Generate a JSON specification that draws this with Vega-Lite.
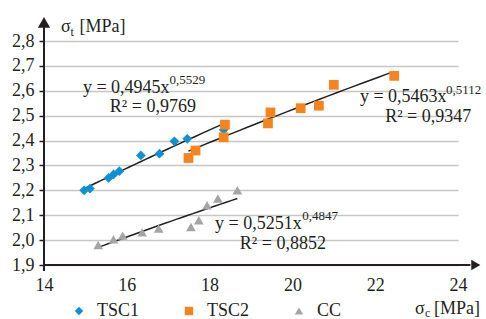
{
  "$schema": "https://vega.github.io/schema/vega-lite/v6.json",
  "width": 414,
  "height": 224,
  "autosize": "none",
  "padding": {"left": 44, "top": 41, "right": 28, "bottom": 54},
  "config": {
    "view": {"stroke": null},
    "font": "Liberation Serif, Times New Roman, Times, Noto Serif, DejaVu Serif, serif",
    "text": {"font": "Liberation Serif, Times New Roman, Times, Noto Serif, DejaVu Serif, serif"},
    "axis": {"labelFont": "Liberation Serif, Times New Roman, Times, Noto Serif, DejaVu Serif, serif", "labelFontSize": 18, "labelColor": "#231F20", "labelOverlap": false},
    "legend": {"labelFont": "Liberation Serif, Times New Roman, Times, Noto Serif, DejaVu Serif, serif"}
  },
  "data": {
    "values": [
      {"series": "TSC1", "c": 14.97, "t": 2.200},
      {"series": "TSC1", "c": 15.11, "t": 2.207},
      {"series": "TSC1", "c": 15.56, "t": 2.250},
      {"series": "TSC1", "c": 15.68, "t": 2.264},
      {"series": "TSC1", "c": 15.82, "t": 2.277},
      {"series": "TSC1", "c": 16.34, "t": 2.340},
      {"series": "TSC1", "c": 16.79, "t": 2.347},
      {"series": "TSC1", "c": 17.15, "t": 2.397},
      {"series": "TSC1", "c": 17.46, "t": 2.407},
      {"series": "TSC1", "c": 18.34, "t": 2.443},
      {"series": "TSC2", "c": 17.49, "t": 2.330},
      {"series": "TSC2", "c": 17.66, "t": 2.360},
      {"series": "TSC2", "c": 18.37, "t": 2.464},
      {"series": "TSC2", "c": 18.34, "t": 2.413},
      {"series": "TSC2", "c": 19.41, "t": 2.469},
      {"series": "TSC2", "c": 19.47, "t": 2.513},
      {"series": "TSC2", "c": 20.20, "t": 2.530},
      {"series": "TSC2", "c": 20.64, "t": 2.540},
      {"series": "TSC2", "c": 21.00, "t": 2.624},
      {"series": "TSC2", "c": 22.46, "t": 2.660},
      {"series": "CC", "c": 15.31, "t": 1.980},
      {"series": "CC", "c": 15.68, "t": 2.003},
      {"series": "CC", "c": 15.90, "t": 2.018},
      {"series": "CC", "c": 16.37, "t": 2.031},
      {"series": "CC", "c": 16.77, "t": 2.047},
      {"series": "CC", "c": 17.55, "t": 2.053},
      {"series": "CC", "c": 17.74, "t": 2.080},
      {"series": "CC", "c": 17.94, "t": 2.140},
      {"series": "CC", "c": 18.20, "t": 2.167},
      {"series": "CC", "c": 18.67, "t": 2.200}
    ]
  },
  "layer": [
    {
      "mark": {"type": "point", "filled": true, "size": 0},
      "encoding": {
        "x": {"field": "c", "type": "quantitative", "title": null,
          "scale": {"domain": [14, 24], "nice": false, "zero": false},
          "axis": {"values": [14, 16, 18, 20, 22, 24], "format": "d", "grid": false, "ticks": false, "domain": false, "labelPadding": 11, "labelFlush": false, "labelFontSize": 18, "labelOverlap": false}},
        "y": {"field": "t", "type": "quantitative", "title": null,
          "scale": {"domain": [1.9, 2.8], "nice": false, "zero": false},
          "axis": {"values": [1.9, 2.0, 2.1, 2.2, 2.3, 2.4, 2.5, 2.6, 2.7, 2.8], "tickCount": 20, "grid": true, "gridColor": "#C6C6C6", "gridWidth": 1.5,
            "ticks": true, "tickSize": 5, "tickColor": "#231F20", "tickWidth": 1.5, "domain": false, "labelPadding": 5, "labelFlush": false,
            "labelFontSize": 18, "labelOverlap": false,
            "labelExpr": "replace(format(datum.value, '.1f'), '.', ',')"}}
      }
    },
    {
      "transform": [{"regression": "t", "on": "c", "groupby": ["series"], "method": "pow"}],
      "mark": {"type": "line", "color": "#231F20", "strokeWidth": 1.5},
      "encoding": {
        "x": {"field": "c", "type": "quantitative", "title": null},
        "y": {"field": "t", "type": "quantitative", "title": null},
        "detail": {"field": "series"}
      }
    },
    {
      "mark": {"type": "point", "filled": true, "opacity": 1, "size": 95},
      "encoding": {
        "x": {"field": "c", "type": "quantitative", "title": null},
        "y": {"field": "t", "type": "quantitative", "title": null},
        "color": {"field": "series", "type": "nominal",
          "scale": {"domain": ["TSC1", "TSC2", "CC"], "range": ["#0E8FD6", "#F5841F", "#A5A5A5"]},
          "legend": {"title": null, "orient": "none", "legendX": 26, "legendY": 261, "direction": "horizontal", "columns": 3,
            "gridAlign": "all", "columnPadding": 40, "padding": 0, "symbolSize": 70, "labelFontSize": 18, "labelColor": "#231F20", "labelOffset": 9}},
        "shape": {"field": "series", "type": "nominal",
          "scale": {"domain": ["TSC1", "TSC2", "CC"], "range": ["diamond", "square", "triangle-up"]}}
      }
    },
    {
      "data": {"values": [{}]},
      "mark": {"type": "rule", "color": "#231F20", "strokeWidth": 2},
      "encoding": {
        "x": {"datum": 14, "type": "quantitative"},
        "y": {"datum": 1.876, "type": "quantitative"},
        "y2": {"datum": 2.88}
      }
    },
    {
      "data": {"values": [{}]},
      "mark": {"type": "rule", "color": "#231F20", "strokeWidth": 2},
      "encoding": {
        "y": {"datum": 1.9, "type": "quantitative"},
        "x": {"datum": 14, "type": "quantitative"},
        "x2": {"datum": 24.3}
      }
    },
    {
      "data": {"values": [{}]},
      "mark": {"type": "point", "shape": "triangle-up", "filled": true, "color": "#231F20", "opacity": 1, "size": 150},
      "encoding": {
        "x": {"datum": 14, "type": "quantitative"},
        "y": {"datum": 2.875, "type": "quantitative"}
      }
    },
    {
      "data": {"values": [{}]},
      "mark": {"type": "point", "shape": "triangle-right", "filled": true, "color": "#231F20", "opacity": 1, "size": 110},
      "encoding": {
        "x": {"datum": 24.43, "type": "quantitative"},
        "y": {"datum": 1.9, "type": "quantitative"}
      }
    },
    {
      "data": {"values": [{}]},
      "mark": {"type": "text", "text": "y = 0,4945x", "align": "left", "baseline": "middle", "fontSize": 18, "color": "#231F20"},
      "encoding": {"x": {"datum": 14.94, "type": "quantitative"}, "y": {"datum": 2.612, "type": "quantitative"}}
    },
    {
      "data": {"values": [{}]},
      "mark": {"type": "text", "text": "0,5529", "align": "left", "baseline": "middle", "fontSize": 13, "color": "#231F20"},
      "encoding": {"x": {"datum": 17.03, "type": "quantitative"}, "y": {"datum": 2.645, "type": "quantitative"}}
    },
    {
      "data": {"values": [{}]},
      "mark": {"type": "text", "text": "R² = 0,9769", "align": "left", "baseline": "middle", "fontSize": 18, "color": "#231F20"},
      "encoding": {"x": {"datum": 15.59, "type": "quantitative"}, "y": {"datum": 2.536, "type": "quantitative"}}
    },
    {
      "data": {"values": [{}]},
      "mark": {"type": "text", "text": "y = 0,5463x", "align": "left", "baseline": "middle", "fontSize": 18, "color": "#231F20"},
      "encoding": {"x": {"datum": 21.63, "type": "quantitative"}, "y": {"datum": 2.576, "type": "quantitative"}}
    },
    {
      "data": {"values": [{}]},
      "mark": {"type": "text", "text": "0,5112", "align": "left", "baseline": "middle", "fontSize": 13, "color": "#231F20"},
      "encoding": {"x": {"datum": 23.71, "type": "quantitative"}, "y": {"datum": 2.605, "type": "quantitative"}}
    },
    {
      "data": {"values": [{}]},
      "mark": {"type": "text", "text": "R² = 0,9347", "align": "left", "baseline": "middle", "fontSize": 18, "color": "#231F20"},
      "encoding": {"x": {"datum": 22.24, "type": "quantitative"}, "y": {"datum": 2.496, "type": "quantitative"}}
    },
    {
      "data": {"values": [{}]},
      "mark": {"type": "text", "text": "y = 0,5251x", "align": "left", "baseline": "middle", "fontSize": 18, "color": "#231F20"},
      "encoding": {"x": {"datum": 18.13, "type": "quantitative"}, "y": {"datum": 2.065, "type": "quantitative"}}
    },
    {
      "data": {"values": [{}]},
      "mark": {"type": "text", "text": "0,4847", "align": "left", "baseline": "middle", "fontSize": 13, "color": "#231F20"},
      "encoding": {"x": {"datum": 20.24, "type": "quantitative"}, "y": {"datum": 2.095, "type": "quantitative"}}
    },
    {
      "data": {"values": [{}]},
      "mark": {"type": "text", "text": "R² = 0,8852", "align": "left", "baseline": "middle", "fontSize": 18, "color": "#231F20"},
      "encoding": {"x": {"datum": 18.73, "type": "quantitative"}, "y": {"datum": 1.985, "type": "quantitative"}}
    },
    {
      "data": {"values": [{}]},
      "mark": {"type": "text", "text": "σ", "align": "left", "baseline": "middle", "fontSize": 18, "color": "#231F20"},
      "encoding": {"x": {"datum": 14.41, "type": "quantitative"}, "y": {"datum": 2.856, "type": "quantitative"}}
    },
    {
      "data": {"values": [{}]},
      "mark": {"type": "text", "text": "t", "align": "left", "baseline": "middle", "fontSize": 12, "color": "#231F20"},
      "encoding": {"x": {"datum": 14.64, "type": "quantitative"}, "y": {"datum": 2.837, "type": "quantitative"}}
    },
    {
      "data": {"values": [{}]},
      "mark": {"type": "text", "text": "[MPa]", "align": "left", "baseline": "middle", "fontSize": 18, "color": "#231F20"},
      "encoding": {"x": {"datum": 14.86, "type": "quantitative"}, "y": {"datum": 2.856, "type": "quantitative"}}
    },
    {
      "data": {"values": [{}]},
      "mark": {"type": "text", "text": "σ", "align": "left", "baseline": "middle", "fontSize": 18, "color": "#231F20"},
      "encoding": {"x": {"datum": 22.96, "type": "quantitative"}, "y": {"datum": 1.725, "type": "quantitative"}}
    },
    {
      "data": {"values": [{}]},
      "mark": {"type": "text", "text": "c", "align": "left", "baseline": "middle", "fontSize": 12, "color": "#231F20"},
      "encoding": {"x": {"datum": 23.2, "type": "quantitative"}, "y": {"datum": 1.708, "type": "quantitative"}}
    },
    {
      "data": {"values": [{}]},
      "mark": {"type": "text", "text": "[MPa]", "align": "left", "baseline": "middle", "fontSize": 18, "color": "#231F20"},
      "encoding": {"x": {"datum": 23.42, "type": "quantitative"}, "y": {"datum": 1.725, "type": "quantitative"}}
    }
  ]
}
